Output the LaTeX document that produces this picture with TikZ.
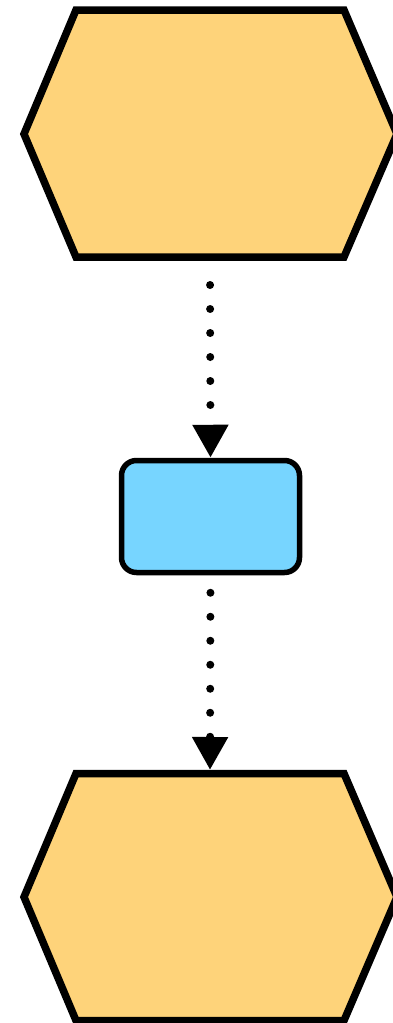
\documentclass[tikz,border=0pt]{standalone}
\usetikzlibrary{arrows.meta}

\definecolor{hexfill}{RGB}{254,211,122}
\definecolor{boxfill}{RGB}{119,213,255}

\begin{document}
\begin{tikzpicture}[x=1pt,y=1pt,yscale=-1,xscale=1,
    hexa/.style={draw=black,fill=hexfill,line width=7.5pt,line join=miter},
    procbox/.style={draw=black,fill=boxfill,line width=5.5pt,rounded corners=15pt,
      minimum width=178pt,minimum height=112pt,inner sep=0pt},
    dotarrow/.style={line width=8pt,line cap=round,dash pattern=on 0pt off 24pt,
      -{Triangle[width=34pt,length=33pt]}}]
  \useasboundingbox (0,0) rectangle (393,1023);

  %Shape: Hexagon [top]
  \draw [hexa] (76,10) -- (344,10) -- (397,134) -- (344,257) -- (76,257) -- (24,134) -- cycle ;
  \coordinate (hexTopS) at (210,260.5);

  %Shape: Rounded Rectangle
  \node [procbox] (box) at (210.5,516.5) {};

  %Shape: Hexagon [bottom]
  \draw [hexa] (76,773.5) -- (344,773.5) -- (397,897) -- (344,1020.5) -- (76,1020.5) -- (24,897) -- cycle ;
  \coordinate (hexBotN) at (210,770);

  %Straight Lines
  \draw [dotarrow, shorten <=24.5pt] (hexTopS) -- (box.north);
  %Straight Lines
  \draw [dotarrow, shorten <=17.5pt] (box.south) -- (hexBotN);

\end{tikzpicture}
\end{document}
